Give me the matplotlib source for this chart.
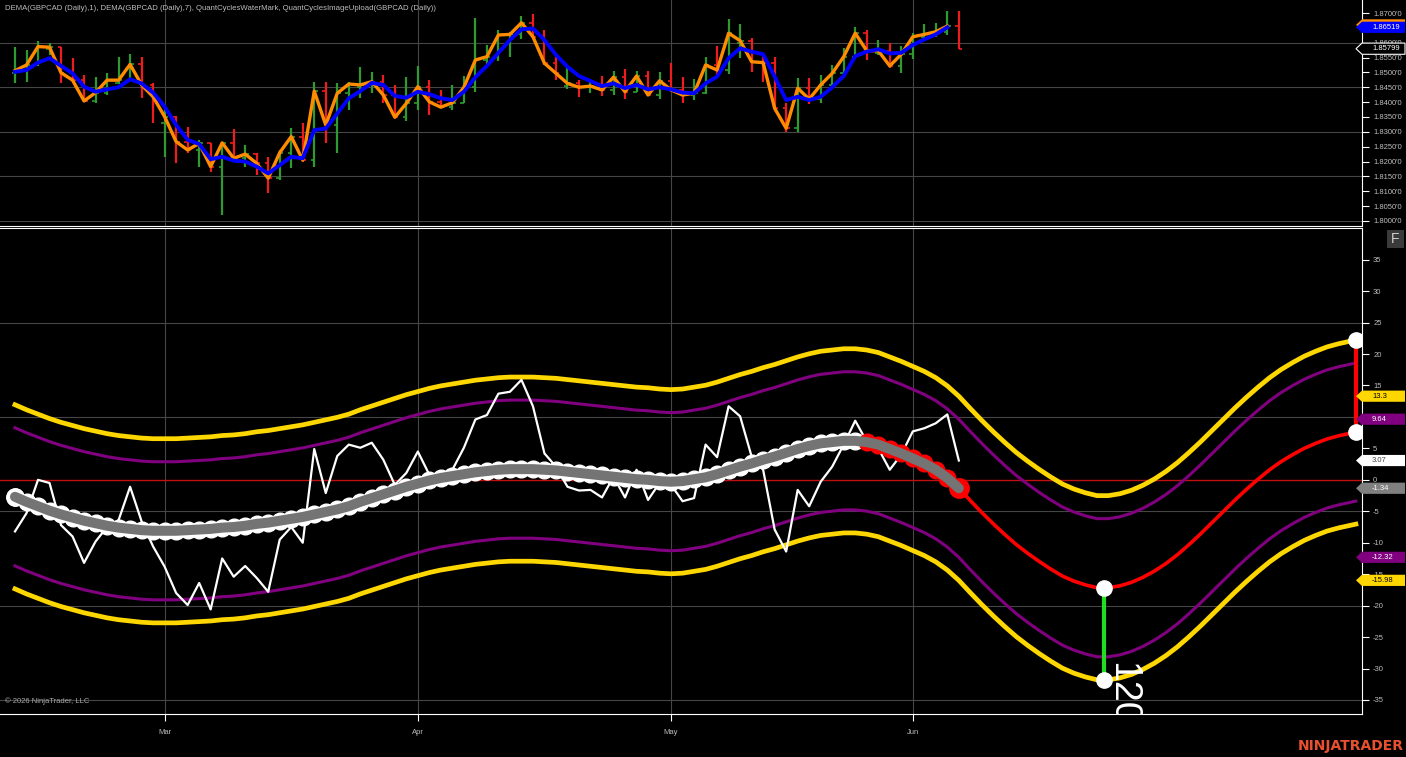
import numpy as np
import matplotlib
matplotlib.use("Agg")
import matplotlib.pyplot as plt
from matplotlib.patches import Polygon, Rectangle

plt.rcParams['font.family'] = ['Liberation Sans', 'DejaVu Sans']

# ---------------- data ----------------
title = ("DEMA(GBPCAD (Daily),1), DEMA(GBPCAD (Daily),7), QuantCyclesWaterMark, "
         "QuantCyclesImageUpload(GBPCAD (Daily))")
month_labels = ['Mar', 'Apr', 'May', 'Jun']
month_index = [13, 35, 57, 78]

opens = [1.8498, 1.8506, 1.8525, 1.8578, 1.8585, 1.8499, 1.8474, 1.8404, 1.8432, 1.8466,
         1.8474, 1.8527, 1.8458, 1.8330, 1.8351, 1.8267, 1.8239, 1.8261, 1.8183, 1.8263,
         1.8211, 1.8225, 1.8194, 1.8144, 1.8230, 1.8284, 1.8205, 1.8437, 1.8323, 1.8430,
         1.8450, 1.8458, 1.8469, 1.8424, 1.8349, 1.8396, 1.8452, 1.8401, 1.8383, 1.8398,
         1.8450, 1.8542, 1.8553, 1.8626, 1.8628, 1.8667, 1.8620, 1.8531, 1.8455, 1.8463,
         1.8450, 1.8454, 1.8441, 1.8484, 1.8435, 1.8488, 1.8424, 1.8472, 1.8441, 1.8424,
         1.8430, 1.8525, 1.8508, 1.8598, 1.8607, 1.8536, 1.8533, 1.8379, 1.8312, 1.8447,
         1.8410, 1.8458, 1.8497, 1.8553, 1.8632, 1.8566, 1.8573, 1.8522, 1.8561, 1.8620,
         1.8628, 1.8637, 1.8656]
highs = [1.8587, 1.8575, 1.8606, 1.8598, 1.8585, 1.8548, 1.8491, 1.8486, 1.8497, 1.8551,
         1.8562, 1.8551, 1.8465, 1.8385, 1.8355, 1.8315, 1.8273, 1.8263, 1.8267, 1.8309,
         1.8256, 1.8230, 1.8216, 1.8240, 1.8312, 1.8329, 1.8469, 1.8469, 1.8463, 1.8468,
         1.8519, 1.8502, 1.8491, 1.8458, 1.8486, 1.8522, 1.8474, 1.8441, 1.8458, 1.8488,
         1.8682, 1.8592, 1.8643, 1.8637, 1.8690, 1.8697, 1.8643, 1.8559, 1.8519, 1.8474,
         1.8471, 1.8488, 1.8505, 1.8510, 1.8506, 1.8505, 1.8500, 1.8531, 1.8484, 1.8477,
         1.8551, 1.8589, 1.8680, 1.8663, 1.8615, 1.8559, 1.8553, 1.8398, 1.8480, 1.8482,
         1.8491, 1.8525, 1.8581, 1.8652, 1.8643, 1.8609, 1.8600, 1.8589, 1.8634, 1.8663,
         1.8667, 1.8707, 1.8707]
lows = [1.8463, 1.8469, 1.8522, 1.8559, 1.8463, 1.8469, 1.8401, 1.8396, 1.8424, 1.8462,
        1.8470, 1.8413, 1.8329, 1.8216, 1.8194, 1.8228, 1.8183, 1.8166, 1.8020, 1.8208,
        1.8183, 1.8155, 1.8095, 1.8138, 1.8177, 1.8200, 1.8183, 1.8261, 1.8230, 1.8374,
        1.8413, 1.8430, 1.8398, 1.8346, 1.8338, 1.8374, 1.8357, 1.8380, 1.8374, 1.8396,
        1.8435, 1.8519, 1.8538, 1.8551, 1.8611, 1.8617, 1.8525, 1.8474, 1.8443, 1.8418,
        1.8432, 1.8421, 1.8424, 1.8411, 1.8435, 1.8420, 1.8411, 1.8435, 1.8396, 1.8407,
        1.8426, 1.8491, 1.8495, 1.8548, 1.8502, 1.8469, 1.8372, 1.8300, 1.8300, 1.8394,
        1.8398, 1.8447, 1.8486, 1.8550, 1.8542, 1.8559, 1.8514, 1.8499, 1.8544, 1.8609,
        1.8620, 1.8626, 1.8578]
closes = [1.8506, 1.8525, 1.8587, 1.8585, 1.8499, 1.8474, 1.8404, 1.8432, 1.8474, 1.8474,
          1.8527, 1.8458, 1.8418, 1.8351, 1.8267, 1.8239, 1.8261, 1.8183, 1.8263, 1.8211,
          1.8225, 1.8194, 1.8144, 1.8230, 1.8284, 1.8205, 1.8437, 1.8323, 1.8430, 1.8461,
          1.8458, 1.8469, 1.8424, 1.8349, 1.8396, 1.8452, 1.8401, 1.8383, 1.8398, 1.8450,
          1.8542, 1.8553, 1.8626, 1.8628, 1.8667, 1.8620, 1.8531, 1.8497, 1.8463, 1.8450,
          1.8454, 1.8441, 1.8484, 1.8435, 1.8488, 1.8424, 1.8472, 1.8441, 1.8424, 1.8430,
          1.8525, 1.8508, 1.8632, 1.8607, 1.8536, 1.8533, 1.8379, 1.8312, 1.8447, 1.8410,
          1.8458, 1.8497, 1.8553, 1.8632, 1.8573, 1.8573, 1.8522, 1.8561, 1.8620, 1.8628,
          1.8637, 1.8656, 1.85799]
dema_fast = closes[:82]
dema_slow = [1.8502, 1.8508, 1.8533, 1.8548, 1.8522, 1.8497, 1.8452, 1.8435, 1.8443, 1.8450,
             1.8477, 1.8463, 1.8432, 1.8385, 1.8323, 1.8273, 1.8259, 1.8208, 1.8216, 1.8203,
             1.8200, 1.8183, 1.8160, 1.8188, 1.8216, 1.8211, 1.8306, 1.8311, 1.8362, 1.8413,
             1.8437, 1.8465, 1.8458, 1.8421, 1.8415, 1.8435, 1.8427, 1.8413, 1.8407, 1.8435,
             1.8484, 1.8522, 1.8566, 1.8609, 1.8645, 1.8648, 1.8609, 1.8559, 1.8519, 1.8488,
             1.8471, 1.8454, 1.8463, 1.8447, 1.8458, 1.8443, 1.8450, 1.8443, 1.8432, 1.8430,
             1.8463, 1.8486, 1.8548, 1.8581, 1.8570, 1.8561, 1.8486, 1.8407, 1.8418, 1.8407,
             1.8418, 1.8450, 1.8488, 1.8555, 1.8570, 1.8578, 1.8564, 1.8566, 1.8592, 1.8611,
             1.8628, 1.86519]

oscillator = [-8.2, -5.3, 0.0, -0.5, -7.2, -9.0, -13.2, -9.8, -7.5, -6.4,
              -1.1, -6.6, -10.6, -13.8, -18.0, -19.9, -16.4, -20.6, -12.5, -15.4,
              -13.7, -15.6, -17.8, -9.5, -7.5, -10.0, 4.9, -2.1, 3.8, 5.6,
              5.1, 5.9, 3.2, -0.8, 1.1, 4.5, 0.8, -0.8, 1.6, 5.1,
              9.6, 10.3, 13.7, 14.0, 15.9, 11.7, 4.2, 2.1, -1.1, -1.7,
              -1.6, -2.8, 0.5, -2.8, 1.6, -3.2, -0.5, -0.8, -3.4, -2.9,
              5.6, 3.6, 11.7, 10.1, 3.7, 1.6, -7.9, -11.4, -1.6, -4.2,
              -0.3, 2.1, 5.6, 9.4, 6.1, 5.0, 1.6, 4.0, 7.7, 8.2,
              9.0, 10.4, 3.07]
cycle = [-2.7, -3.5, -4.2, -4.9, -5.5, -6.0, -6.5, -6.9, -7.3, -7.6,
         -7.8, -8.0, -8.1, -8.1, -8.1, -8.0, -7.9, -7.8, -7.6, -7.5,
         -7.3, -7.0, -6.8, -6.5, -6.2, -5.9, -5.5, -5.1, -4.7, -4.2,
         -3.5, -2.9, -2.3, -1.7, -1.1, -0.6, -0.1, 0.3, 0.6, 0.9,
         1.2, 1.4, 1.6, 1.7, 1.7, 1.7, 1.6, 1.5, 1.3, 1.1,
         0.9, 0.7, 0.5, 0.3, 0.1, 0.0, -0.2, -0.3, -0.2, 0.1,
         0.4, 0.9, 1.5, 2.1, 2.6, 3.2, 3.7, 4.3, 4.9, 5.4,
         5.8, 6.0, 6.2, 6.2, 6.0, 5.6, 4.9, 4.2, 3.4, 2.6,
         1.6, 0.3, -1.34]
projection_x = list(range(82, 117)) + [116.5]
projection = [-1.34, -3.3, -5.2, -7.0, -8.7, -10.3, -11.7, -13.0, -14.2, -15.3,
              -16.1, -16.7, -17.15, -17.15, -16.85, -16.3, -15.5, -14.5, -13.3, -11.9,
              -10.3, -8.6, -6.8, -5.0, -3.2, -1.5, 0.1, 1.6, 2.9, 4.0,
              5.0, 5.8, 6.5, 7.0, 7.4, 7.6]
band_outer = 14.64
band_inner = 10.98
cycle_low_x = 94.6
cycle_low_val = -17.2
cycle_length_text = '120'
red_dots_from = 74

price_ticks = np.arange(1.800, 1.8701, 0.005)
price_grid = [1.800, 1.815, 1.830, 1.845, 1.860]
osc_ticks = list(range(-35, 36, 5))
osc_grid = [-35, -20, -5, 10, 25]

# ---------------- figure ----------------
W, H = 1406, 757
fig = plt.figure(figsize=(W / 100, H / 100), dpi=100, facecolor='black')
XL = (-1.303, 117.03)
GRID = '#464646'
TXT = '#bdbdbd'

ax1 = fig.add_axes([0, 1 - 226 / H, 1362 / W, 226 / H], facecolor='black')
ax2 = fig.add_axes([0, 1 - 714 / H, 1362 / W, 486 / H], facecolor='black')

for ax in (ax1, ax2):
    ax.set_xlim(*XL)
    for s in ('left', 'top', 'bottom', 'right'):
        ax.spines[s].set_visible(False)
    ax.spines['right'].set_visible(True)
    ax.spines['right'].set_color('white')
    ax.yaxis.tick_right()
    ax.tick_params(axis='y', direction='out', length=5, width=0.8, color='white',
                   labelcolor=TXT, labelsize=5.5, pad=3)
    for m in month_index:
        ax.axvline(m, color=GRID, lw=0.8, zorder=0.5)

ax1.spines['bottom'].set_visible(True)
ax1.spines['bottom'].set_color('white')
ax2.spines['top'].set_visible(True)
ax2.spines['top'].set_color('white')
ax2.spines['bottom'].set_visible(True)
ax2.spines['bottom'].set_color('white')

# ---- top panel ----
ax1.set_ylim(1.79831, 1.87438)
ax1.set_yticks(price_ticks)
# labels hidden behind the value markers are left blank
ax1.set_yticklabels(['' if abs(v - 1.865) < 1e-6 else f"{v:.4f}'0" for v in price_ticks])
ax1.set_xticks([])
for g in price_grid:
    ax1.axhline(g, color=GRID, lw=0.8, zorder=0.5)

idx = np.arange(len(closes))
o = np.array(opens); c = np.array(closes)
cols = np.where(c >= o, '#2f9a2f', '#ee1c1c')
ax1.vlines(idx, lows, highs, colors=cols, lw=1.6, zorder=2)
ax1.hlines(opens, idx - 0.3, idx, colors=cols, lw=1.2, zorder=2)
ax1.hlines(closes, idx, idx + 0.3, colors=cols, lw=1.2, zorder=2)
ax1.plot(np.arange(len(dema_fast)), dema_fast, color='#ff8c00', lw=2.4, zorder=3)
ax1.plot(np.arange(len(dema_slow)), dema_slow, color='#0000ff', lw=2.8, zorder=4)

# ---- bottom panel ----
ax2.set_ylim(-37.23, 40.04)
ax2.set_yticks(osc_ticks)
ax2.set_yticklabels(['' if t == 10 else str(t) for t in osc_ticks])
ax2.set_xticks(month_index)
ax2.set_xticklabels(month_labels)
ax2.tick_params(axis='x', direction='out', length=5, width=0.8, color='white',
                labelcolor=TXT, labelsize=5.5, pad=6)
for g in osc_grid:
    ax2.axhline(g, color=GRID, lw=0.8, zorder=0.5)
ax2.axhline(0, color='#c01010', lw=1.0, zorder=0.8)

cx = np.arange(len(cycle))
full_x = np.concatenate([cx, np.array(projection_x[1:])])
full_c = np.concatenate([np.array(cycle), np.array(projection[1:])])
ax2.plot(full_x, full_c + band_outer, color='#ffd700', lw=3.4, zorder=2)
ax2.plot(full_x, full_c - band_outer, color='#ffd700', lw=3.4, zorder=2)
ax2.plot(full_x, full_c + band_inner, color='#800080', lw=2.2, zorder=2)
ax2.plot(full_x, full_c - band_inner, color='#800080', lw=2.2, zorder=2)

ax2.plot(np.arange(len(oscillator)), oscillator, color='white', lw=1.6, zorder=3)

# projection line
ax2.plot(projection_x, projection, color='#ff0000', lw=2.6, zorder=3.5)

# cycle line with markers
ax2.plot(cx[:red_dots_from], cycle[:red_dots_from], 'o', ms=12, mfc='white', mec='white',
         zorder=4)
ax2.plot(cx[red_dots_from:], cycle[red_dots_from:], 'o', ms=12, mfc='#ff0000', mec='#ff0000',
         zorder=4)
ax2.plot([cx[-1]], [cycle[-1]], 'o', ms=14, mfc='#ff0000', mec='#ff0000', zorder=4)
ax2.plot([cx[0]], [cycle[0]], 'o', ms=12.5, mfc='white', mec='white', zorder=4)
ax2.plot(cx, cycle, color='#747474', lw=7.2, zorder=4.5, solid_capstyle='round')

# cycle low / end markers
ax2.plot([cycle_low_x, cycle_low_x], [cycle_low_val, cycle_low_val - band_outer],
         color='#22dd22', lw=3, zorder=5)
ax2.plot([projection_x[-1], projection_x[-1]], [projection[-1], projection[-1] + band_outer],
         color='#ff0000', lw=3, zorder=5)
ax2.plot([cycle_low_x, cycle_low_x], [cycle_low_val, cycle_low_val - band_outer], 'o',
         ms=11, mfc='white', mec='white', zorder=6)
ax2.plot([projection_x[-1], projection_x[-1]], [projection[-1], projection[-1] + band_outer], 'o',
         ms=11, mfc='white', mec='white', zorder=6)
ax2.text(96.2, -29.0, cycle_length_text, rotation=-90, color='white', fontsize=27,
         ha='center', va='top', zorder=6, clip_on=True)

# ---------------- value markers on the price scale ----------------
fig.canvas.draw()


def value_marker(ax, v, text, fc, tc, ec='none'):
    yd = ax.transData.transform((0, v))[1]
    h = 5.6
    pts = [(1356, yd), (1362, yd + h), (1405, yd + h), (1405, yd - h), (1362, yd - h)]
    pts = [(px / W, py / H) for px, py in pts]
    fig.add_artist(Polygon(pts, closed=True, transform=fig.transFigure, fc=fc, ec=ec,
                           lw=0.8, zorder=5))
    if text:
        fig.text(1372 / W, yd / H, text, color=tc, fontsize=5.5, va='center', ha='left',
                 zorder=6)


def fmt(v):
    s = f"{v:.2f}"
    return s.rstrip('0').rstrip('.') if '.' in s else s


value_marker(ax1, dema_fast[-1] + 0.0004, '', '#ff8c00', 'white')
value_marker(ax1, dema_slow[-1], f"{dema_slow[-1]:.5f}", '#0000ff', 'white')
value_marker(ax1, closes[-1], f"{closes[-1]:.5f}", 'black', 'white', ec='white')

lc = cycle[-1]
value_marker(ax2, lc + band_outer, fmt(lc + band_outer), '#ffd700', 'black')
value_marker(ax2, lc + band_inner, fmt(lc + band_inner), '#800080', 'white')
value_marker(ax2, oscillator[-1], fmt(oscillator[-1]), 'white', '#444444')
value_marker(ax2, lc, fmt(lc), '#808080', 'white')
value_marker(ax2, lc - band_inner, fmt(lc - band_inner), '#800080', 'white')
value_marker(ax2, lc - band_outer, fmt(lc - band_outer), '#ffd700', 'black')

# ---------------- texts and decorations ----------------
fig.text(5 / W, 1 - 9 / H, title, color=TXT, fontsize=5.6, va='center', ha='left')
fig.text(5 / W, 1 - 701 / H, '\u00a9 2026 NinjaTrader, LLC', color='#aaaaaa', fontsize=5.5,
         va='center', ha='left')
fig.add_artist(Rectangle((1387 / W, (H - 248) / H), 17 / W, 18 / H, transform=fig.transFigure,
                         fc='#3a3a3a', ec='none', zorder=5))
fig.text(1395.5 / W, (H - 239) / H, 'F', color='#cccccc', fontsize=10, ha='center',
         va='center', zorder=6)
fig.text(1404 / W, 1 - 746 / H, 'NINJATRADER', color='#e9502f', fontsize=10,
         fontweight='bold', family='DejaVu Sans', ha='right', va='center')

fig.savefig('out.png', dpi=100, facecolor='black')
